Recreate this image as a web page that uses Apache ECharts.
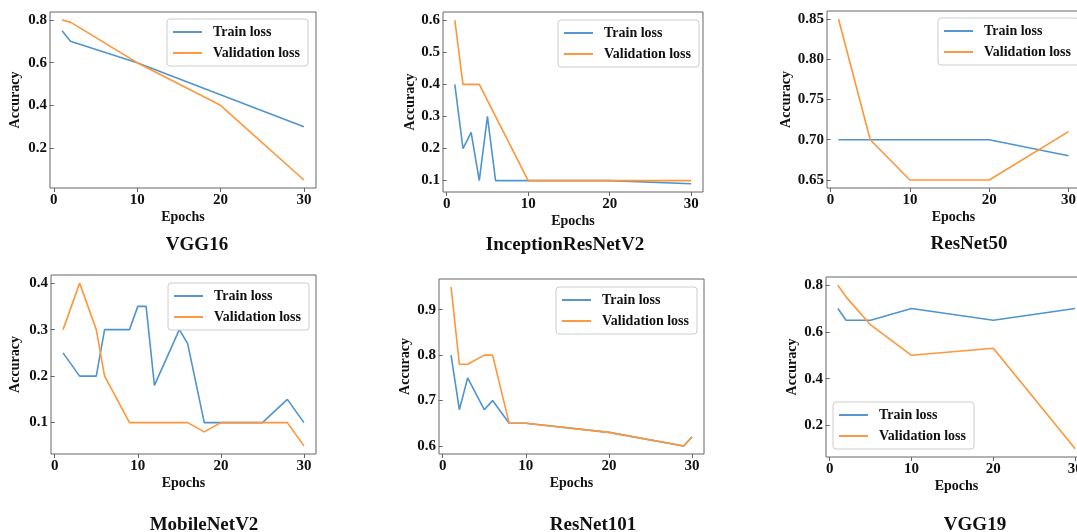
<!DOCTYPE html>
<html>
<head>
<meta charset="utf-8">
<title>Loss curves</title>
<script src="https://cdn.jsdelivr.net/npm/echarts@6/dist/echarts.min.js"></script>
<style>
  html, body { margin: 0; padding: 0; background: #fff; }
  #chart { width: 1077px; height: 532px; }
</style>
</head>
<body>
<div id="chart"></div>
<script>
// 数据：每个模型的 epoch 与 loss
const seriesNames = ['Train loss', 'Validation loss'];
const modelNames = ['VGG16', 'InceptionResNetV2', 'ResNet50', 'MobileNetV2', 'ResNet101', 'VGG19'];
const xTicks = [0, 10, 20, 30];

const vgg16TrainEpochs = [1, 2, 10, 20, 30];
const vgg16Train = [0.75, 0.70, 0.60, 0.45, 0.30];
const vgg16ValEpochs = [1, 2, 10, 20, 30];
const vgg16Val = [0.80, 0.79, 0.60, 0.40, 0.05];
const vgg16YTicks = [0.2, 0.4, 0.6, 0.8];

const inceptionTrainEpochs = [1, 2, 3, 4, 5, 6, 10, 20, 30];
const inceptionTrain = [0.40, 0.20, 0.25, 0.10, 0.30, 0.10, 0.10, 0.10, 0.09];
const inceptionValEpochs = [1, 2, 4, 10, 20, 30];
const inceptionVal = [0.60, 0.40, 0.40, 0.10, 0.10, 0.10];
const inceptionYTicks = [0.1, 0.2, 0.3, 0.4, 0.5, 0.6];

const resnet50TrainEpochs = [1, 5, 10, 20, 30];
const resnet50Train = [0.70, 0.70, 0.70, 0.70, 0.68];
const resnet50ValEpochs = [1, 5, 10, 20, 30];
const resnet50Val = [0.85, 0.70, 0.65, 0.65, 0.71];
const resnet50YTicks = [0.65, 0.70, 0.75, 0.80, 0.85];

const mobileTrainEpochs = [1, 3, 5, 6, 9, 10, 11, 12, 15, 16, 18, 20, 25, 28, 30];
const mobileTrain = [0.25, 0.20, 0.20, 0.30, 0.30, 0.35, 0.35, 0.18, 0.30, 0.27, 0.10, 0.10, 0.10, 0.15, 0.10];
const mobileValEpochs = [1, 3, 5, 6, 9, 16, 18, 20, 28, 30];
const mobileVal = [0.30, 0.40, 0.30, 0.20, 0.10, 0.10, 0.08, 0.10, 0.10, 0.05];
const mobileYTicks = [0.1, 0.2, 0.3, 0.4];

const resnet101TrainEpochs = [1, 2, 3, 5, 6, 8, 10, 20, 29, 30];
const resnet101Train = [0.80, 0.68, 0.75, 0.68, 0.70, 0.65, 0.65, 0.63, 0.60, 0.62];
const resnet101ValEpochs = [1, 2, 3, 5, 6, 8, 10, 20, 29, 30];
const resnet101Val = [0.95, 0.78, 0.78, 0.80, 0.80, 0.65, 0.65, 0.63, 0.60, 0.62];
const resnet101YTicks = [0.6, 0.7, 0.8, 0.9];

const vgg19TrainEpochs = [1, 2, 5, 10, 20, 30];
const vgg19Train = [0.70, 0.65, 0.65, 0.70, 0.65, 0.70];
const vgg19ValEpochs = [1, 2, 5, 10, 20, 30];
const vgg19Val = [0.80, 0.75, 0.63, 0.50, 0.53, 0.10];
const vgg19YTicks = [0.2, 0.4, 0.6, 0.8];

(function() {
  'use strict';

  const FONT = '"Liberation Serif", "DejaVu Serif", serif';
  const BLUE = '#4f94cd';
  const ORANGE = '#ff9638';
  const FRAME = '#666';
  // 图例里的短线
  const LINE_ICON = 'path://M0,0 L30,0 L30,2 L0,2 Z';

  // 每个子图的位置和坐标范围（matplotlib 默认 5% 边距）
  const panels = [
    { grid: [50, 12, 266, 176], y: [0.0125, 0.8375], yTicks: vgg16YTicks, digits: 1, yGap: 28,
      train: [vgg16TrainEpochs, vgg16Train], val: [vgg16ValEpochs, vgg16Val],
      legend: [167, 19], title: [197, 245] },
    { grid: [443, 12, 260, 180], y: [0.0645, 0.6255], yTicks: inceptionYTicks, digits: 1, yGap: 26,
      train: [inceptionTrainEpochs, inceptionTrain], val: [inceptionValEpochs, inceptionVal],
      legend: [558, 20], title: [565, 245] },
    { grid: [827, 11, 253, 177], y: [0.64, 0.86], yTicks: resnet50YTicks, digits: 2, yGap: 34,
      train: [resnet50TrainEpochs, resnet50Train], val: [resnet50ValEpochs, resnet50Val],
      legend: [938, 18], title: [969, 244] },
    { grid: [51, 275, 265, 179], y: [0.0325, 0.4175], yTicks: mobileYTicks, digits: 1, yGap: 29,
      train: [mobileTrainEpochs, mobileTrain], val: [mobileValEpochs, mobileVal],
      legend: [168, 283], title: [204, 525] },
    { grid: [439, 279, 265, 175], y: [0.5825, 0.9675], yTicks: resnet101YTicks, digits: 1, yGap: 27,
      train: [resnet101TrainEpochs, resnet101Train], val: [resnet101ValEpochs, resnet101Val],
      legend: [556, 287], title: [593, 525] },
    { grid: [826, 277, 261, 180], y: [0.065, 0.835], yTicks: vgg19YTicks, digits: 1, yGap: 27,
      train: [vgg19TrainEpochs, vgg19Train], val: [vgg19ValEpochs, vgg19Val],
      legend: [833, 402], title: [975, 525] }
  ];

  const zip = (xs, ys) => xs.map((x, i) => [x, ys[i]]);

  const grids = [], xAxes = [], yAxes = [], series = [], legends = [], texts = [];

  panels.forEach((p, i) => {
    grids.push({
      left: p.grid[0], top: p.grid[1], width: p.grid[2], height: p.grid[3],
      show: true, borderColor: FRAME, borderWidth: 1, backgroundColor: 'transparent',
      outerBoundsMode: 'none', containLabel: false
    });

    xAxes.push({
      gridIndex: i, type: 'value', min: -0.45, max: 31.45,
      name: 'Epochs', nameLocation: 'middle', nameGap: 22,
      nameTextStyle: { fontFamily: FONT, fontWeight: 'bold', fontSize: 14, color: '#111' },
      axisLine: { show: false },
      axisTick: { show: true, length: 4, customValues: xTicks, lineStyle: { color: FRAME } },
      axisLabel: { customValues: xTicks, margin: 5, fontFamily: FONT, fontWeight: 'bold', fontSize: 15, color: '#111' },
      splitLine: { show: false }
    });

    yAxes.push({
      gridIndex: i, type: 'value', min: p.y[0], max: p.y[1],
      name: 'Accuracy', nameLocation: 'middle', nameGap: p.yGap, nameRotate: 90,
      nameTextStyle: { fontFamily: FONT, fontWeight: 'bold', fontSize: 14, color: '#111' },
      axisLine: { show: false },
      axisTick: { show: true, length: 4, customValues: p.yTicks, lineStyle: { color: FRAME } },
      axisLabel: {
        customValues: p.yTicks, margin: 3, fontFamily: FONT, fontWeight: 'bold', fontSize: 15, color: '#111',
        formatter: v => v.toFixed(p.digits)
      },
      splitLine: { show: false }
    });

    series.push({
      name: seriesNames[0], type: 'line', xAxisIndex: i, yAxisIndex: i,
      data: zip(p.train[0], p.train[1]), symbol: 'none', z: 2,
      lineStyle: { color: BLUE, width: 1.6 }, itemStyle: { color: BLUE }
    });
    series.push({
      name: seriesNames[1], type: 'line', xAxisIndex: i, yAxisIndex: i,
      data: zip(p.val[0], p.val[1]), symbol: 'none', z: 3,
      lineStyle: { color: ORANGE, width: 1.6 }, itemStyle: { color: ORANGE }
    });

    legends.push({
      data: seriesNames.map(n => ({ name: n, icon: LINE_ICON })),
      orient: 'vertical', left: p.legend[0], top: p.legend[1],
      itemWidth: 29, itemHeight: 14, itemGap: 7, padding: [6, 8, 6, 6],
      backgroundColor: 'rgba(255,255,255,0.85)', borderColor: '#ccc', borderWidth: 1, borderRadius: 3,
      selectedMode: false,
      textStyle: { fontFamily: FONT, fontWeight: 'bold', fontSize: 14, color: '#111', padding: [0, 0, 0, 6] }
    });

    texts.push({
      type: 'text', x: p.title[0], y: p.title[1], z: 10,
      style: {
        text: modelNames[i], fill: '#111', font: 'bold 19px ' + FONT,
        textAlign: 'center', textVerticalAlign: 'middle'
      }
    });
  });

  const chart = echarts.init(document.getElementById('chart'));
  chart.setOption({
    animation: false,
    backgroundColor: '#fff',
    grid: grids,
    xAxis: xAxes,
    yAxis: yAxes,
    legend: legends,
    series: series,
    graphic: texts
  });
})();
</script>
</body>
</html>
